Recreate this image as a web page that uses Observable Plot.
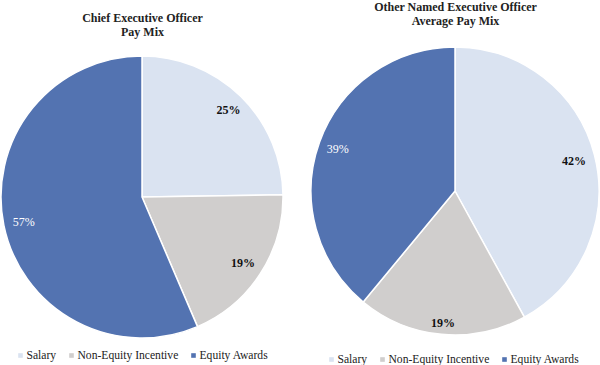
<!DOCTYPE html>
<html>
<head>
<meta charset="utf-8">
<script src="https://cdn.jsdelivr.net/npm/d3@7"></script>
<script src="https://cdn.jsdelivr.net/npm/@observablehq/plot@0.6"></script>
<style>
  html, body { margin: 0; padding: 0; background: #fff; }
  #chart svg, #chart svg text { font-family: "Liberation Serif", "Times New Roman", Times, serif !important; }
</style>
</head>
<body>
<div id="chart"></div>
<script>
// ---- Data ----
const categories = ["Salary", "Non-Equity Incentive", "Equity Awards"];
const ceoValues = [25, 19, 57];
const nedValues = [42, 19, 39];
const ceoTitle = ["Chief Executive Officer", "Pay Mix"];
const nedTitle = ["Other Named Executive Officer", "Average Pay Mix"];

// ---- Style / layout ----
const colors = ["#dae3f1", "#d0cecd", "#5373b1"];
const labelColors = ["#111111", "#111111", "#ffffff"];
const font = "Liberation Serif";

const pies = [
  {values: ceoValues, title: ceoTitle, cx: 142, cy: 197, r: 141, k: [0.87, 0.85, 0.86],
   titleY: [18, 32], legendY: 355, legendX: [20, 71, 193]},
  {values: nedValues, title: nedTitle, cx: 455, cy: 191, r: 144, k: [0.85, 0.92, 0.87],
   titleY: [7, 21], legendY: 359, legendX: [331, 382, 504]}
];

function pieMark(p) {
  return (index, scales) => {
    const cx = scales.x(p.cx), cy = scales.y(p.cy);
    const r = scales.x(p.cx + p.r) - scales.x(p.cx);
    const arcs = d3.pie().sort(null)(p.values);
    const arc = d3.arc().innerRadius(0).outerRadius(r);
    const g = d3.create("svg:g").attr("transform", `translate(${cx},${cy})`);
    g.selectAll("path").data(arcs).join("path")
      .attr("d", arc)
      .attr("fill", (d, i) => colors[i])
      .attr("stroke", "#ffffff")
      .attr("stroke-width", 1.5)
      .attr("stroke-linejoin", "round");
    return g.node();
  };
}

const labelRows = [], titleRows = [], legendRows = [];
pies.forEach((p, pi) => {
  const arcs = d3.pie().sort(null)(p.values);
  arcs.forEach((a, i) => {
    const mid = (a.startAngle + a.endAngle) / 2;
    labelRows.push({
      x: p.cx + p.k[i] * p.r * Math.sin(mid),
      y: p.cy - p.k[i] * p.r * Math.cos(mid),
      text: `${p.values[i]}%`,
      i
    });
    legendRows.push({x: p.legendX[i], y: p.legendY, text: categories[i], color: colors[i]});
  });
  p.title.forEach((t, j) => titleRows.push({x: p.cx, y: p.titleY[j], text: t}));
});

const chart = Plot.plot({
  width: 600,
  height: 365,
  margin: 0,
  x: {domain: [0, 600], range: [0, 600], axis: null},
  y: {domain: [0, 365], range: [0, 365], axis: null},
  style: {background: "#fff"},
  marks: [
    ...pies.map(pieMark),
    Plot.text(labelRows.filter(d => d.i !== 2), {
      x: "x", y: "y", text: "text", fill: labelColors[0],
      fontSize: 12, fontWeight: "bold", fontFamily: font
    }),
    Plot.text(labelRows.filter(d => d.i === 2), {
      x: "x", y: "y", text: "text", fill: labelColors[2],
      fontSize: 12, fontFamily: font
    }),
    Plot.text(titleRows, {
      x: "x", y: "y", text: "text", fill: "#222",
      fontSize: 12, fontWeight: "bold", fontFamily: font
    }),
    Plot.dot(legendRows, {
      x: "x", y: "y", symbol: "square", r: 2.6, fill: "color", stroke: null
    }),
    Plot.text(legendRows, {
      x: d => d.x + 6, y: "y", text: "text", textAnchor: "start",
      fill: "#222", fontSize: 11.6, fontFamily: font
    })
  ]
});
document.getElementById("chart").appendChild(chart);
</script>
</body>
</html>
